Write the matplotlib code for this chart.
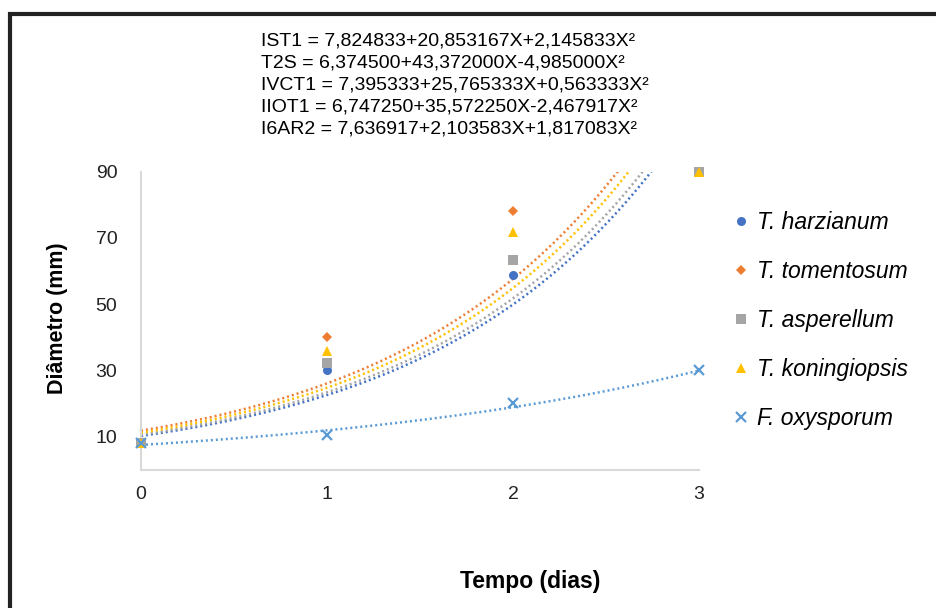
import numpy as np
import matplotlib
matplotlib.use("Agg")
import matplotlib.pyplot as plt
from matplotlib.patches import Rectangle

plt.rcParams['font.family'] = ['Liberation Sans', 'DejaVu Sans']

# data
dias = [0, 1, 2, 3]
especies = ['T. harzianum', 'T. tomentosum', 'T. asperellum', 'T. koningiopsis', 'F. oxysporum']
harzianum = [8.0, 30.0, 58.8, 90.0]
tomentosum = [8.0, 40.2, 78.1, 90.0]
asperellum = [8.0, 32.2, 63.3, 90.0]
koningiopsis = [8.0, 35.8, 71.7, 90.0]
oxysporum = [8.0, 10.5, 20.1, 30.0]
equacoes = [
    'IST1 = 7,824833+20,853167X+2,145833X²',
    'T2S = 6,374500+43,372000X-4,985000X²',
    'IVCT1 = 7,395333+25,765333X+0,563333X²',
    'IIOT1 = 6,747250+35,572250X-2,467917X²',
    'I6AR2 = 7,636917+2,103583X+1,817083X²',
]

series = [harzianum, tomentosum, asperellum, koningiopsis, oxysporum]
cores = ['#4472C4', '#ED7D31', '#A5A5A5', '#FFC000', '#5B9BD5']
marcadores = ['o', 'D', 's', '^', 'x']
tamanhos = [6.5, 5.0, 6.5, 7.0, 7.0]

fig = plt.figure(figsize=(9.37, 6.08), dpi=100)
ax = fig.add_axes([0.1505, 0.2273, 0.5955, 0.4903])

# exponential trend lines (Excel-style, fitted on log values)
xx = np.linspace(0, 3, 300)
for vals, cor in zip(series, cores):
    b, lna = np.polyfit(dias, np.log(vals), 1)
    ax.plot(xx, np.exp(lna) * np.exp(b * xx), color=cor, lw=1.8,
            linestyle=(0, (0.8, 1.2)), zorder=2)

for vals, cor, m, ms, nome in zip(series, cores, marcadores, tamanhos, especies):
    ax.plot(dias, vals, linestyle='none', marker=m, color=cor, ms=ms,
            mew=1.6 if m == 'x' else 0, label=nome, zorder=3, clip_on=False)

ax.set_xlim(0, 3)
ax.set_ylim(0, 90)
ax.set_xticks(dias)
ax.set_yticks([10, 30, 50, 70, 90])
ax.tick_params(length=0, labelsize=14, colors='#222222')
ax.tick_params(axis='y', pad=17)
ax.tick_params(axis='x', pad=12)
for s in ['top', 'right']:
    ax.spines[s].set_visible(False)
for s in ['left', 'bottom']:
    ax.spines[s].set_color('#D9D9D9')
    ax.spines[s].set_linewidth(1.5)

fig.text(0.0618, 0.477, 'Diâmetro (mm)', rotation=90, ha='center', va='center',
         fontsize=15.5, fontweight='bold')
fig.text(0.566, 0.043, 'Tempo (dias)', ha='center', va='center',
         fontsize=16.5, fontweight='bold')

for i, eq in enumerate(equacoes):
    fig.text(0.279, 1 - (41 + 22 * i) / 608, eq, ha='left', va='center',
             fontsize=14)

leg = fig.legend(loc='upper left', bbox_to_anchor=(0.7855, 0.653), frameon=False,
                 fontsize=16.5, handlelength=0.45, handletextpad=0.45,
                 labelspacing=1.14, borderpad=0, borderaxespad=0)
for t in leg.get_texts():
    t.set_fontstyle('italic')

# outer frame (only left and top edges visible in the reference)
fig.patches.append(Rectangle((0.0107, -0.05), 1.1, 1.05 - 0.0238, transform=fig.transFigure,
                             fill=False, edgecolor='#222222', lw=3, clip_on=False))

fig.savefig('out.png', dpi=100)
